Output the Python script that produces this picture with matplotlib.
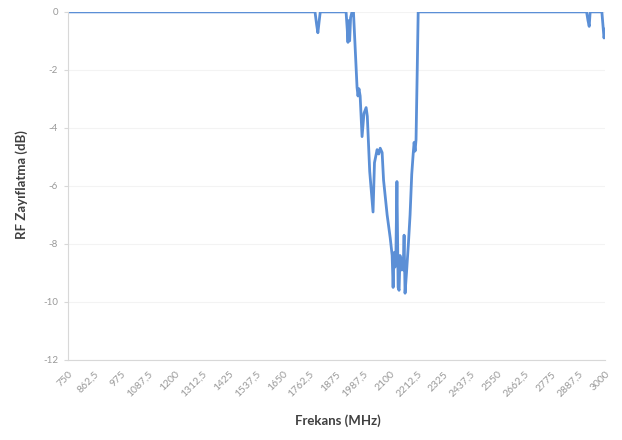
import numpy as np
import matplotlib
matplotlib.use('Agg')
import matplotlib.pyplot as plt

# frequency (MHz) and RF attenuation (dB)
freq = [750, 1785, 1792, 1797, 1802, 1807, 1915, 1920, 1923, 1926, 1930, 1934, 1940,
        1946, 1961, 1965, 1969, 1974, 1982, 1990, 1999, 2004, 2014, 2028, 2034,
        2045, 2052, 2058, 2066, 2072, 2087, 2100, 2108, 2112, 2116, 2120, 2124,
        2128, 2133, 2137, 2141, 2146, 2150, 2154, 2158, 2162, 2168, 2176, 2183,
        2190, 2196, 2200, 2204, 2208, 2213, 2217, 2922, 2928, 2933, 2937, 2986,
        2990, 2995, 3000]
atten = [0, 0, -0.45, -0.72, -0.35, 0, 0, -0.6, -1.05, -0.3, -1.0, -0.2, 0,
         0, -2.6, -2.9, -2.65, -2.9, -4.3, -3.5, -3.3, -3.6, -5.5, -6.9, -5.2,
         -4.75, -4.9, -4.7, -4.85, -5.8, -7.0, -7.8, -8.4, -9.5, -8.3, -8.8, -8.2,
         -5.85, -9.5, -9.6, -8.4, -8.9, -8.5, -8.9, -7.7, -9.7, -9.0, -8.0, -7.0,
         -5.6, -4.9, -4.5, -4.8, -4.4, -2.0, 0, 0, -0.3, -0.5, 0, 0,
         -0.4, -0.9, -0.6]

xticks = np.arange(750, 3000.1, 112.5)
xlabels = [('%g' % v).replace('.', ',') for v in xticks]
yticks = [0, -2, -4, -6, -8, -10, -12]

plt.rcParams['font.family'] = ['Lato', 'DejaVu Sans']

fig = plt.figure(figsize=(6.22, 4.40), dpi=100)
ax = fig.add_axes([0.109, 0.182, 0.864, 0.791])

ax.plot(freq, atten, color='#5b8fd6', lw=2.0, solid_joinstyle='round')

ax.set_xlim(750, 3000)
ax.set_ylim(-12, 0)
ax.set_yticks(yticks)
ax.set_yticklabels([str(v) for v in yticks], fontsize=7, color='#999999')
ax.set_xticks(xticks)
ax.set_xticklabels(xlabels, fontsize=7.5, color='#999999', rotation=45,
                   ha='right', rotation_mode='anchor')
ax.tick_params(axis='y', length=3, color='#d8d8d8', pad=4)
ax.tick_params(axis='x', length=0, pad=7)
ax.grid(axis='y', color='#f3f3f3', lw=0.8)
ax.set_axisbelow(True)

for s in ['top', 'right']:
    ax.spines[s].set_visible(False)
for s in ['left', 'bottom']:
    ax.spines[s].set_color('#d8d8d8')
    ax.spines[s].set_linewidth(0.8)

fig.text(0.035, 0.58, 'RF Zayıflatma (dB)', rotation=90, ha='center', va='center',
         fontsize=9.5, fontweight='bold', color='#404040')
fig.text(0.543, 0.045, 'Frekans (MHz)', ha='center', va='center',
         fontsize=9.5, fontweight='bold', color='#404040')

fig.savefig('out.png', dpi=100)
